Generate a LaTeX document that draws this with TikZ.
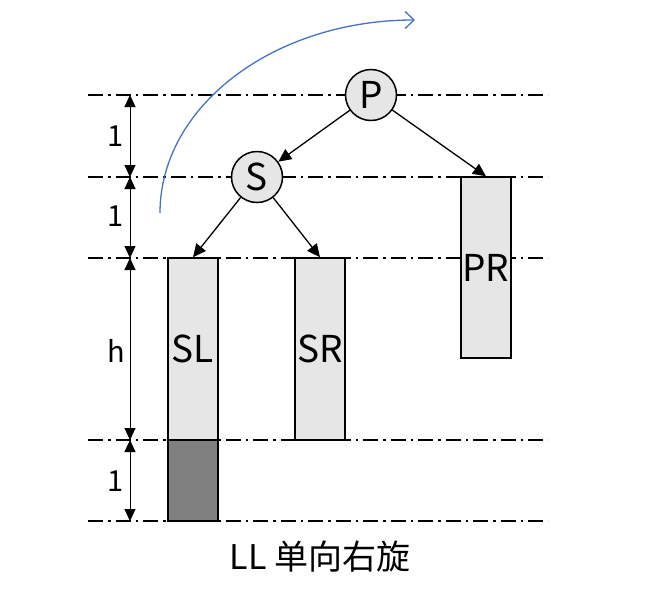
\documentclass[tikz,border=0pt]{standalone}
\usepackage{fontspec}
\setmainfont{Noto Sans CJK SC}
\usetikzlibrary{arrows.meta}
\definecolor{boxgray}{HTML}{E6E6E6}
\definecolor{darkgray2}{HTML}{808080}
\definecolor{rotblue}{HTML}{4472C4}
\begin{document}
\begin{tikzpicture}[x=1pt,y=-1pt,
  level/.style={line width=1.6pt, dash pattern=on 15pt off 5pt on 2.5pt off 5pt},
  nodecirc/.style={circle, draw, line width=1.5pt, fill=boxgray, minimum size=51pt, inner sep=0pt, font=\fontsize{37}{37}\selectfont},
  subtree/.style={rectangle, draw, line width=1.5pt, fill=boxgray, minimum width=50pt, inner sep=0pt, font=\fontsize{37}{37}\selectfont},
  edge/.style={line width=1.3pt, -{Triangle[length=13pt,width=12pt]}},
  dim/.style={line width=1pt, {Triangle[length=12pt,width=11pt]}-{Triangle[length=12pt,width=11pt]}},
  dimlab/.style={font=\fontsize{29}{29}\selectfont},
]
\useasboundingbox (0,0) rectangle (660,600);
% level lines
\foreach \yy/\nm in {95/a,177/b,258/c,440/d,521/e}{
  \coordinate (L\nm) at (88,\yy);
  \coordinate (R\nm) at (548,\yy);
  \draw[level] (L\nm) -- (R\nm);
}
% subtrees
\node[subtree, minimum height=182pt] (SL) at (193,349) {SL};
\node[rectangle, draw, line width=1.5pt, fill=darkgray2, minimum width=50pt, minimum height=81pt, inner sep=0pt] (X) at (193,480.5) {};
\node[subtree, minimum height=182pt] (SR) at (320,349) {SR};
\node[subtree, minimum height=181pt] (PR) at (486,267.5) {};
\node[font=\fontsize{37}{37}\selectfont] (PRt) at (486,268) {PR};
% tree nodes
\node[nodecirc] (P) at (371,95) {P};
\node[nodecirc] (S) at (257,177) {S};
\draw[edge] (P) -- (S);
\draw[edge] (P) -- (PR.north);
\draw[edge] (S) -- (SL.north);
\draw[edge] (S) -- (SR.north);
% dimensions
\coordinate (d1) at (130,95);
\coordinate (d2) at (130,177);
\coordinate (d3) at (130,258);
\coordinate (d4) at (130,440);
\coordinate (d5) at (130,521);
\draw[dim] (d1) -- (d2);
\draw[dim] (d2) -- (d3);
\draw[dim] (d3) -- (d4);
\draw[dim] (d4) -- (d5);
\node[dimlab] (l1) at (116,136) {1};
\node[dimlab] (l2) at (116,216) {1};
\node[dimlab] (l3) at (116,351) {h};
\node[dimlab] (l4) at (116,481) {1};
% rotation arrow
\coordinate (r0) at (160,213);
\coordinate (r1) at (415,20);
\draw[rotblue, line width=1.3pt, -{Straight Barb[length=9pt,width=17pt]}] (r0) .. controls (160,106) and (274,20) .. (r1);
% caption
\node[font=\fontsize{34}{34}\selectfont] (cap) at (320,557) {LL 单向右旋};
\end{tikzpicture}
\end{document}
